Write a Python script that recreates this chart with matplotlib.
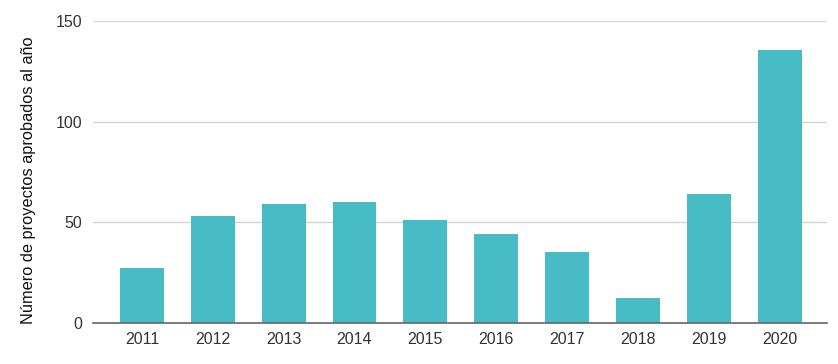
import matplotlib.pyplot as plt
import numpy as np

years = ['2011', '2012', '2013', '2014', '2015', '2016', '2017', '2018', '2019', '2020']
projects = [27, 53, 59, 60, 51, 44, 35, 12, 64, 136]

plt.rcParams['font.family'] = ['Liberation Sans', 'DejaVu Sans']

fig = plt.figure(figsize=(8.38, 3.64), dpi=100)
ax = fig.add_axes([0.111, 0.114, 0.876, 0.827])

x = np.arange(len(years))
ax.bar(x, projects, width=0.62, color='#47bcc4', zorder=3)

ax.set_xlim(-0.69, len(years) - 0.33)
ax.set_ylim(0, 150)
ax.set_yticks([0, 50, 100, 150])
ax.set_xticks(x)
ax.set_xticklabels(years)

ax.grid(axis='y', color='#d4d4d4', linewidth=1, zorder=0)
for s in ['top', 'right', 'left']:
    ax.spines[s].set_visible(False)
ax.spines['bottom'].set_color('#666666')
ax.spines['bottom'].set_linewidth(1.2)
ax.spines['bottom'].set_zorder(4)

ax.tick_params(axis='both', length=0, labelsize=11.5, labelcolor='#333333')
ax.tick_params(axis='y', pad=8)
ax.tick_params(axis='x', pad=7)

ax.set_ylabel('Número de proyectos aprobados al año', fontsize=11.8, color='#111111')
ax.yaxis.set_label_coords(-0.078, 0.472)

fig.savefig('out.png', dpi=100)
